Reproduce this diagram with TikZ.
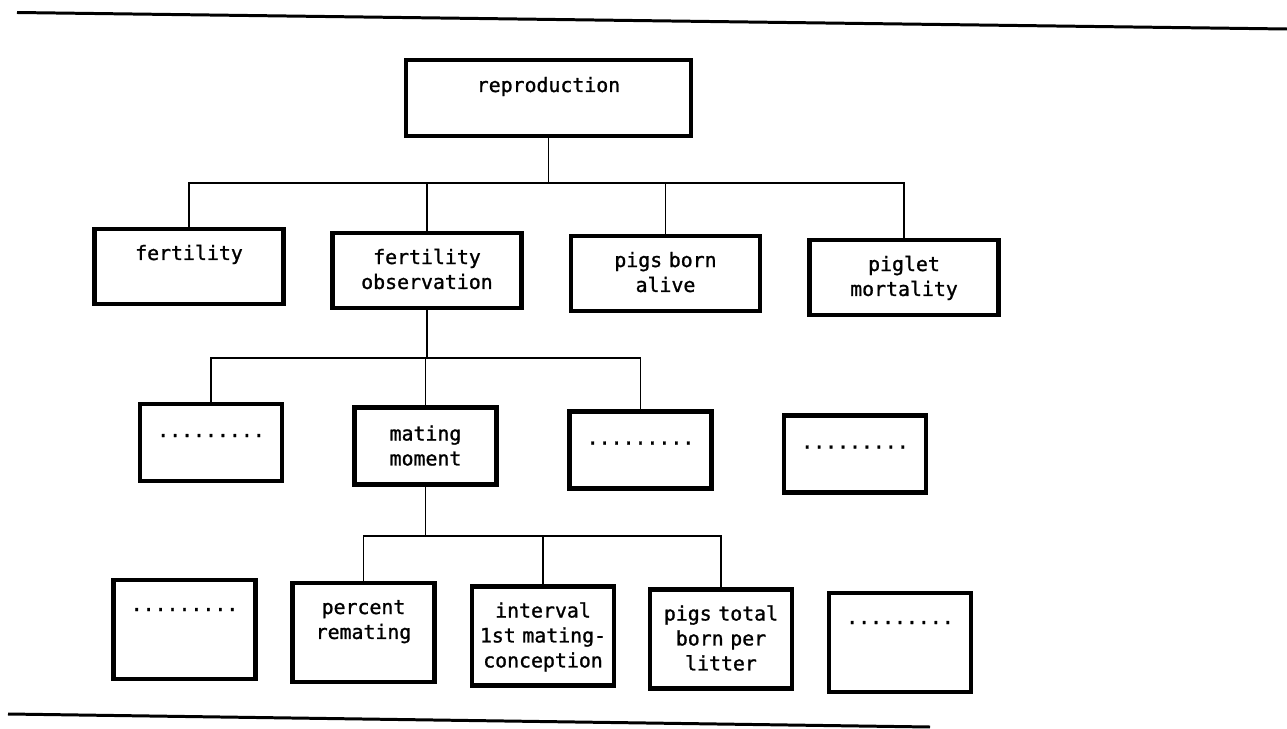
\documentclass[tikz,border=0pt]{standalone}
\usepackage{fontspec}
\usepackage{tikz}
\newfontfamily\boxfont{DejaVu Sans Mono}[FakeBold=1.2]

\tikzset{
  box/.style={draw, line width=2.3pt, inner sep=0pt, align=center,
    font=\boxfont\fontsize{11.3}{14.2}\selectfont},
  topbox/.style={box, minimum width=5.70cm, text width=5.5cm, text height=0.64cm, text depth=0.88cm},
  boxA/.style={box, minimum width=3.78cm, text width=3.6cm, text height=0.62cm, text depth=0.88cm},
  boxB/.style={box, minimum width=2.84cm, text width=2.8cm, text height=0.66cm, text depth=0.88cm},
  boxC/.style={box, minimum width=2.84cm, text width=2.8cm, text height=0.62cm, text depth=1.36cm},
  wire/.style={line width=0.8pt},
  rule/.style={line width=1.7pt}
}

\begin{document}
\begin{tikzpicture}
		\useasboundingbox (0,0) rectangle (25.74,-14.58);
		\coordinate (T1) at (0.34,-0.25);
		\coordinate (T2) at (25.74,-0.58);
		\coordinate (B1) at (0.16,-14.28);
		\coordinate (B2) at (18.6,-14.54);
		\draw[rule] (T1) -- (T2);
		\draw[rule] (B1) -- (B2);

		\node[topbox] (rep) at (10.97,-1.96) {reproduction};

		\node[boxA] (fert) at (3.78,-5.33) {fertility};
		\node[boxA] (obs) at (8.54,-5.41) {fertility\\observation};
		\node[boxA] (pigs) at (13.31,-5.47) {pigs born\\alive};
		\node[boxA] (piglet) at (18.08,-5.55) {piglet\\mortality};

		\node[boxB] (dotsA) at (4.22,-8.85) {.........};
		\node[boxB] (mating) at (8.51,-8.92) {mating\\moment};
		\node[boxB] (dotsB) at (12.81,-9.00) {.........};
		\node[boxB] (dotsC) at (17.10,-9.08) {.........};

		\node[boxC] (dotsD) at (3.69,-12.59) {.........};
		\node[boxC] (perc) at (7.27,-12.65) {percent\\remating};
		\node[boxC] (interval) at (10.86,-12.72) {interval\\1st mating-\\conception};
		\node[boxC] (total) at (14.42,-12.78) {pigs total\\born per\\litter};
		\node[boxC] (dotsE) at (18.00,-12.85) {.........};

		\coordinate (j1) at (10.97,-3.66);
		\draw[wire] (rep.south) -- (j1);
		\draw[wire] (fert.north) |- (j1) -| (piglet.north);
		\draw[wire] (obs.north) -- (obs.north |- j1);
		\draw[wire] (pigs.north) -- (pigs.north |- j1);

		\coordinate (j2) at (8.54,-7.16);
		\draw[wire] (obs.south) -- (j2);
		\draw[wire] (dotsA.north) |- (j2) -| (dotsB.north);
		\draw[wire] (mating.north) -- (mating.north |- j2);

		\coordinate (j3) at (8.51,-10.72);
		\draw[wire] (mating.south) -- (j3);
		\draw[wire] (perc.north) |- (j3) -| (total.north);
		\draw[wire] (interval.north) -- (interval.north |- j3);
\end{tikzpicture}
\end{document}
